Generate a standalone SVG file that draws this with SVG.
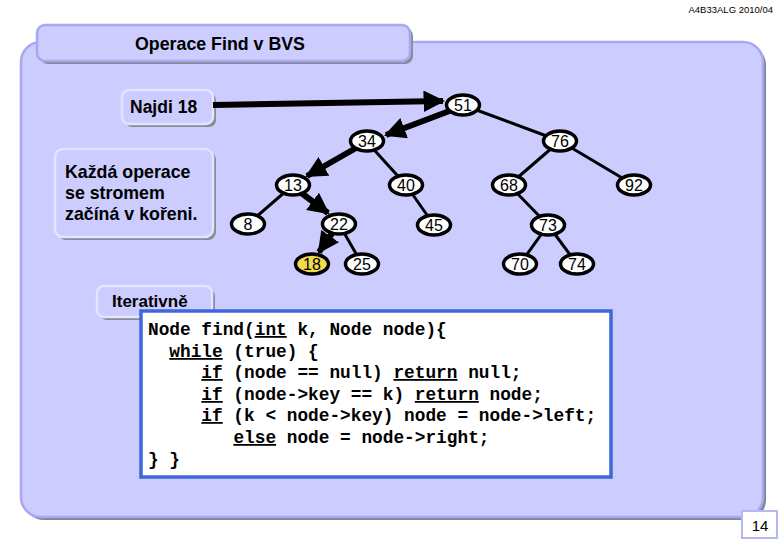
<svg xmlns="http://www.w3.org/2000/svg" width="780" height="540" viewBox="0 0 780 540">
<defs>
<style>
.lbl{font-family:"Liberation Sans",Arial,sans-serif;font-weight:bold;fill:#000}
.nd ellipse{fill:#fff;stroke:#000;stroke-width:3.5}
.nd text{font-family:"Liberation Sans",Arial,sans-serif;font-size:16px;text-anchor:middle;fill:#000}
.thin{stroke:#000;stroke-width:3;fill:none}
.thick{stroke:#000;stroke-width:6;fill:none}
.code{font-family:"Liberation Mono","Courier New",monospace;font-weight:bold;font-size:17.8px;fill:#000;white-space:pre}
.tab{fill:#ccccff;stroke:#e4e4ff;stroke-width:2.5}
.shadow{fill:#8a8a9a}
</style>
<marker id="ah" viewBox="0 0 10 10" refX="9" refY="5" markerWidth="3.6" markerHeight="3.6" orient="auto" markerUnits="strokeWidth">
<path d="M0,0 L10,5 L0,10 Z" fill="#000"/>
</marker>
</defs>
<rect width="780" height="540" fill="#fff"/>
<text x="773" y="13" font-family="'Liberation Sans',Arial,sans-serif" font-size="9.5" text-anchor="end">A4B33ALG 2010/04</text>

<g id="panel">
<rect x="24" y="45" width="742" height="475" rx="20" fill="#858595"/>
<rect x="21" y="42" width="742" height="475" rx="20" fill="#ccccff" stroke="#a8a8f0" stroke-width="2.5"/>
</g>

<g id="title">
<rect class="shadow" x="40" y="28" width="373" height="36" rx="8"/>
<rect x="37" y="25" width="373" height="36" rx="8" fill="#ccccff" stroke="#a8a8f0" stroke-width="2.5"/>
<text class="lbl" x="220" y="50" font-size="17.8" text-anchor="middle">Operace Find v BVS</text>
</g>

<g id="najdi">
<rect class="shadow" x="125" y="93" width="91" height="34" rx="7"/>
<rect class="tab" x="122" y="90" width="91" height="34" rx="7"/>
<text class="lbl" x="130" y="113" font-size="17.5">Najdi 18</text>
</g>

<g id="kazda">
<rect class="shadow" x="58" y="152" width="158" height="88" rx="8"/>
<rect class="tab" x="55" y="149" width="158" height="88" rx="8"/>
<text class="lbl" x="65" y="178" font-size="17.8">Každá operace</text>
<text class="lbl" x="65" y="199" font-size="17.8">se stromem</text>
<text class="lbl" x="65" y="220" font-size="17.8">začíná v kořeni.</text>
</g>

<g id="iter">
<rect class="shadow" x="100" y="289" width="115" height="31" rx="7"/>
<rect class="tab" x="97" y="286" width="115" height="31" rx="7"/>
<text class="lbl" x="112" y="307" font-size="17">Iterativně</text>
</g>

<g id="code">
<rect x="141" y="311" width="470" height="166" fill="#fff" stroke="#3f66dd" stroke-width="3.5"/>
<text class="code" x="148" y="335">Node find(<tspan text-decoration="underline">int</tspan> k, Node node){</text>
<text class="code" x="148" y="357">  <tspan text-decoration="underline">while</tspan> (true) {</text>
<text class="code" x="148" y="378">     <tspan text-decoration="underline">if</tspan> (node == null) <tspan text-decoration="underline">return</tspan> null;</text>
<text class="code" x="148" y="400">     <tspan text-decoration="underline">if</tspan> (node->key == k) <tspan text-decoration="underline">return</tspan> node;</text>
<text class="code" x="148" y="421">     <tspan text-decoration="underline">if</tspan> (k &lt; node->key) node = node->left;</text>
<text class="code" x="148" y="443">        <tspan text-decoration="underline">else</tspan> node = node->right;</text>
<text class="code" x="148" y="465">} }</text>
</g>

<g id="connectors">
<line class="thin" x1="463" y1="105" x2="560" y2="141"/>
<line class="thin" x1="367" y1="142" x2="406" y2="185"/>
<line class="thin" x1="293" y1="185" x2="248" y2="224"/>
<line class="thin" x1="339" y1="224" x2="362" y2="264"/>
<line class="thin" x1="406" y1="185" x2="434" y2="225"/>
<line class="thin" x1="560" y1="141" x2="509" y2="185"/>
<line class="thin" x1="560" y1="141" x2="634" y2="185"/>
<line class="thin" x1="509" y1="185" x2="548" y2="225"/>
<line class="thin" x1="548" y1="225" x2="520" y2="264"/>
<line class="thin" x1="548" y1="225" x2="577" y2="264"/>
<line class="thick" x1="213" y1="105" x2="443" y2="101" marker-end="url(#ah)"/>
<line class="thick" x1="452" y1="110" x2="386" y2="135" marker-end="url(#ah)"/>
<line class="thick" x1="356" y1="148" x2="307" y2="176" marker-end="url(#ah)"/>
<line class="thick" x1="300" y1="192" x2="328" y2="213" marker-end="url(#ah)"/>
<line class="thick" x1="333" y1="232" x2="319" y2="252" marker-end="url(#ah)"/>
</g>

<g id="n51" class="nd"><ellipse cx="463" cy="105" rx="16.5" ry="10"/><text x="463" y="111">51</text></g>
<g id="n34" class="nd"><ellipse cx="367" cy="141" rx="16.5" ry="10"/><text x="367" y="147">34</text></g>
<g id="n76" class="nd"><ellipse cx="560" cy="141" rx="16.5" ry="10"/><text x="560" y="147">76</text></g>
<g id="n13" class="nd"><ellipse cx="293" cy="185" rx="16.5" ry="10"/><text x="293" y="191">13</text></g>
<g id="n40" class="nd"><ellipse cx="406" cy="185" rx="16.5" ry="10"/><text x="406" y="191">40</text></g>
<g id="n68" class="nd"><ellipse cx="509" cy="185" rx="16.5" ry="10"/><text x="509" y="191">68</text></g>
<g id="n92" class="nd"><ellipse cx="634" cy="185" rx="16.5" ry="10"/><text x="634" y="191">92</text></g>
<g id="n8" class="nd"><ellipse cx="248" cy="224" rx="16.5" ry="10"/><text x="248" y="230">8</text></g>
<g id="n22" class="nd"><ellipse cx="339" cy="224" rx="16.5" ry="10"/><text x="339" y="230">22</text></g>
<g id="n45" class="nd"><ellipse cx="434" cy="225" rx="16.5" ry="10"/><text x="434" y="231">45</text></g>
<g id="n73" class="nd"><ellipse cx="548" cy="225" rx="16.5" ry="10"/><text x="548" y="231">73</text></g>
<g id="n18" class="nd"><ellipse cx="312" cy="264" rx="16.5" ry="10" style="fill:#f2d94e"/><text x="312" y="270">18</text></g>
<g id="n25" class="nd"><ellipse cx="362" cy="264" rx="16.5" ry="10"/><text x="362" y="270">25</text></g>
<g id="n70" class="nd"><ellipse cx="520" cy="264" rx="16.5" ry="10"/><text x="520" y="270">70</text></g>
<g id="n74" class="nd"><ellipse cx="577" cy="264" rx="16.5" ry="10"/><text x="577" y="270">74</text></g>

<g id="page">
<rect x="742" y="511" width="35" height="27" fill="#fff" stroke="#b4b8ee" stroke-width="2"/>
<text x="760" y="531" font-family="'Liberation Sans',Arial,sans-serif" font-size="15" text-anchor="middle">14</text>
</g>
</svg>
